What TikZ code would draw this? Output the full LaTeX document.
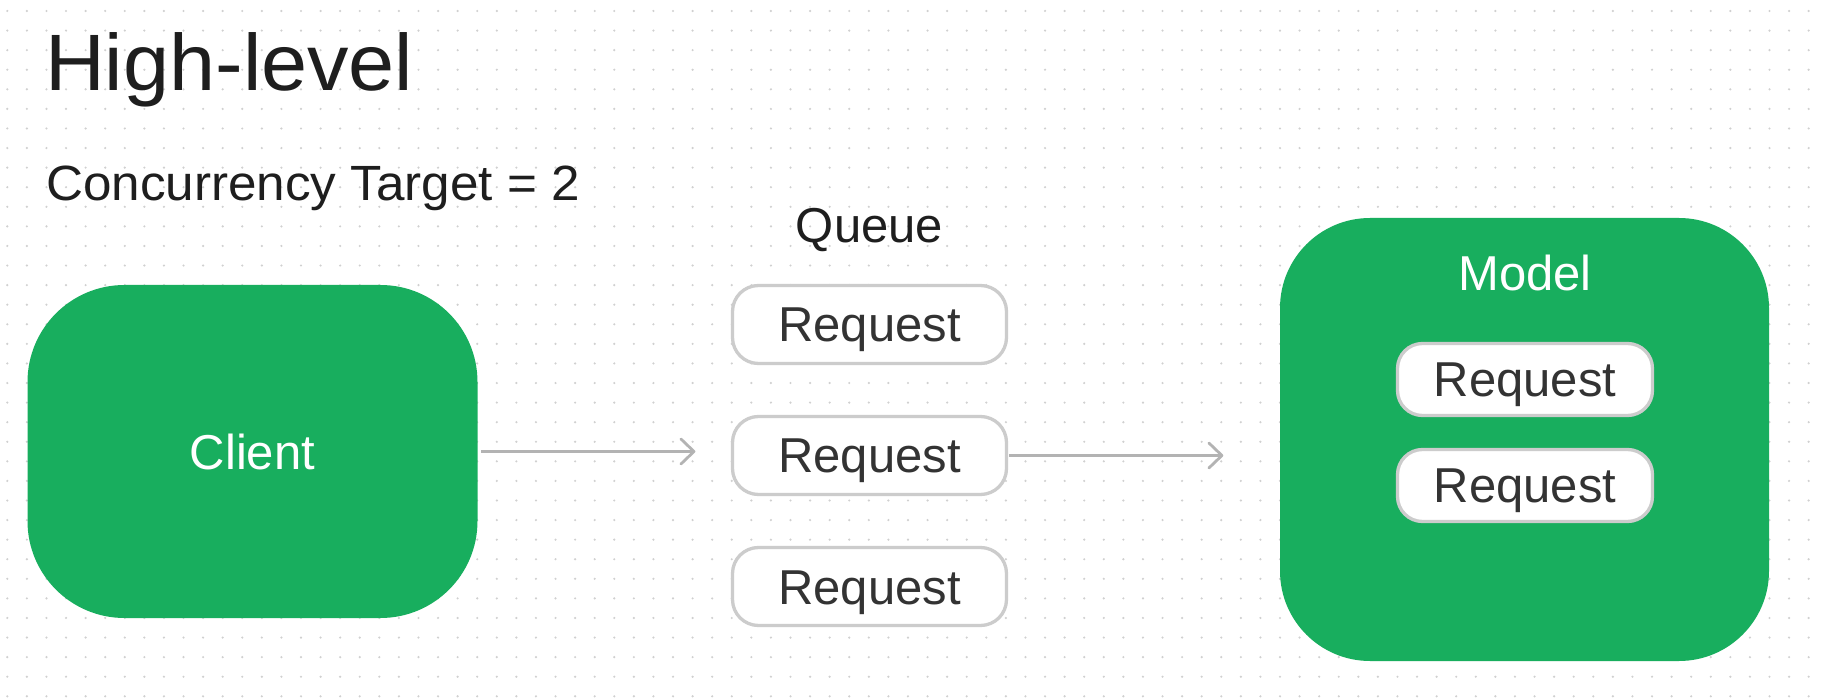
\documentclass[tikz,border=0pt]{standalone}
\usepackage{fontspec}
\setmainfont{Liberation Sans}
\newfontfamily\widefont[FakeStretch=1.035]{Liberation Sans}
\usetikzlibrary{arrows.meta}
\definecolor{boxgreen}{HTML}{18AE5E}
\definecolor{bordergray}{HTML}{CCCCCC}
\definecolor{reqtext}{HTML}{333333}
\definecolor{arrowgray}{HTML}{B3B3B3}
\definecolor{titletext}{HTML}{1E1E1E}
\definecolor{dotgray}{HTML}{D0D0D0}
\tikzset{
  bodyfont/.style={font=\fontsize{49}{58}\selectfont},
  bigbox/.style={draw=none, fill=boxgreen, text=white, bodyfont, inner sep=0pt,
    text height=36pt, text depth=0pt, align=center},
  reqbox/.style={draw=bordergray, line width=3.3pt, fill=white, text=reqtext, bodyfont,
    inner sep=0pt, text height=35pt, text depth=0pt, align=center},
  queuereq/.style={reqbox, minimum width=274pt, minimum height=78pt, rounded corners=26pt},
  modelreq/.style={reqbox, minimum width=255pt, minimum height=72pt, rounded corners=25pt},
  flow/.style={draw=arrowgray, line width=2.8pt,
    -{Straight Barb[length=13pt,width=25pt,line width=2.8pt,round]}},
  plain/.style={inner sep=0pt, anchor=base}
}
\begin{document}
\begin{tikzpicture}[x=1pt,y=-1pt]
\useasboundingbox (0,0) rectangle (1824,700);
\fill[white] (0,0) rectangle (1824,700);
% dotted grid
\foreach \i in {0,...,92}{
  \foreach \j in {0,...,35}{
    \fill[dotgray] (7.3+19.58*\i, 11+19.58*\j) circle (1.2pt);
  }
}
% titles
\node[plain, anchor=base west, text=titletext, font=\widefont\fontsize{80}{96}\selectfont] (title) at (45,90.7) {High-level};
\node[plain, anchor=base west, text=titletext, font=\widefont\fontsize{49.5}{58}\selectfont] (target) at (46,201) {Concurrency Target = 2};
\node[plain, text=titletext, bodyfont] (queuelbl) at (869.5,243) {Queue};
% client
\node[bigbox, minimum width=450pt, minimum height=333pt, rounded corners=97pt] (client) at (252.5,451.5) {Client};
% queue
\node[queuereq] (q1) at (869.5,324.5) {Request};
\node[queuereq] (q2) at (869.5,455.5) {Request};
\node[queuereq] (q3) at (869.5,586.5) {Request};
% model
\node[bigbox, minimum width=489pt, minimum height=443pt, rounded corners=90pt] (model) at (1524.5,439.5) {};
\node[plain, text=white, bodyfont] (modellbl) at (1525,291) {Model};
\node[modelreq] (m1) at (1525,379.5) {Request};
\node[modelreq] (m2) at (1525,485.5) {Request};
% connectors
\draw[flow, shorten <=3.5pt, shorten >=35.5pt] (client.east) -- (client.east -| q2.west);
\draw[flow, shorten <=1pt, shorten >=56.5pt] (q2.east) -- (q2.east -| model.west);
\end{tikzpicture}
\end{document}
